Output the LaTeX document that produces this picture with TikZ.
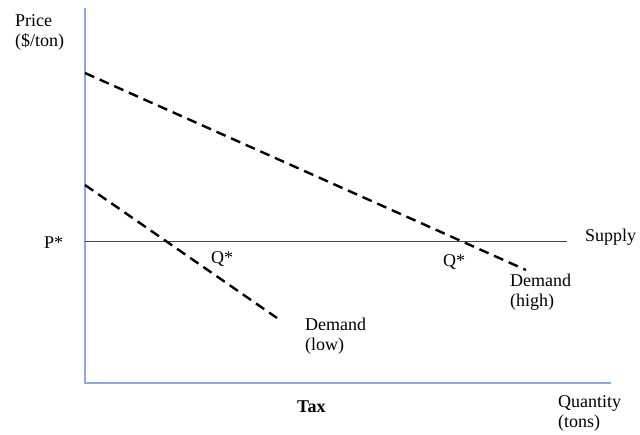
\documentclass[tikz,border=0pt]{standalone}
\usepackage{fontspec}
\setmainfont{Liberation Serif}
\definecolor{axisblue}{RGB}{143,170,214}
\definecolor{supplygray}{RGB}{70,70,70}
\begin{document}
\begin{tikzpicture}[x=1pt,y=-1pt,
  axisline/.style={draw=axisblue,line width=1.6pt},
  supplyline/.style={draw=supplygray,line width=1pt},
  demandline/.style={draw=black,line width=2.4pt,dash pattern=on 10pt off 6pt},
  lbl/.style={font=\fontsize{18}{20}\selectfont,inner sep=0pt,align=left,anchor=west}]
\useasboundingbox (0,0) rectangle (640,434);
% axes
\coordinate (origin) at (85,383);
\coordinate (ytop) at (85,8);
\coordinate (xend) at (611,383);
\draw[axisline] (ytop) -- (origin) -- (xend);
% supply at the fixed price
\coordinate (s0) at (85,241);
\coordinate (s1) at (567,241);
\draw[supplyline] (s0) -- (s1);
% demand curves
\coordinate (dh0) at (85,73);
\coordinate (dh1) at (526,270);
\draw[demandline] (dh0) -- (dh1);
\coordinate (dl0) at (85,185);
\coordinate (dl1) at (277,318);
\draw[demandline] (dl0) -- (dl1);
% labels
\node[lbl] (price) at (15,32) {Price\\(\$/ton)};
\node[lbl] (pstar) at (44,243) {P*};
\node[lbl] (qlow) at (211,259) {Q*};
\node[lbl] (qhigh) at (443,262) {Q*};
\node[lbl] (supply) at (585,237) {Supply};
\node[lbl] (dhigh) at (510,292) {Demand\\(high)};
\node[lbl] (dlow) at (305,336) {Demand\\(low)};
\node[lbl,font=\fontsize{18}{20}\selectfont\bfseries] (tax) at (297,407) {Tax};
\node[lbl] (qty) at (558,413) {Quantity\\(tons)};
\end{tikzpicture}
\end{document}
